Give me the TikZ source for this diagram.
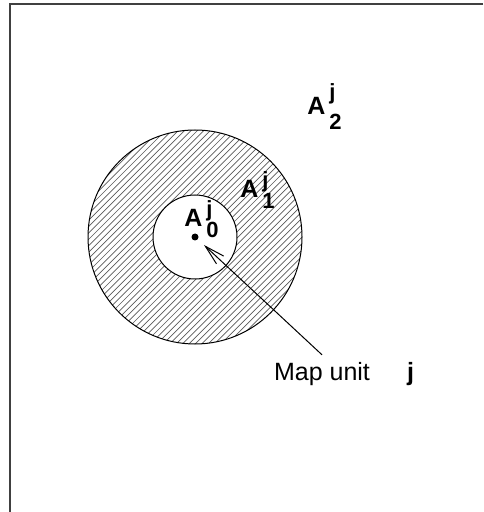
\documentclass[tikz,border=0pt]{standalone}
\usepackage{fontspec}
\setmainfont{Liberation Sans}
\usetikzlibrary{arrows.meta, positioning}
\newcommand{\arealabel}[2][-2.7pt]{\textbf{A}\kern2pt{\fontsize{11}{13.2}\selectfont\bfseries\begin{tabular}[c]{@{}l@{}}j\\[#1]#2\end{tabular}}}

\begin{document}
\begin{tikzpicture}[
  x=0.5pt, y=-0.5pt,
  frame/.style={line width=1pt, draw=black!75},
  ring/.style={line width=0.5pt, draw=black},
  hatchline/.style={line width=0.35pt, draw=black!65},
  lbl/.style={inner sep=0pt, font=\fontsize{12.5}{14}\selectfont\bfseries},
  txt/.style={font=\fontsize{12.5}{15}\selectfont},
  arr/.style={-{Straight Barb[length=10pt, width=5.3pt]}, line width=0.5pt}
]
  \useasboundingbox (0,0) rectangle (483,512);
  \draw[frame] (483,4.5) -- (9.5,4.5) -- (9.5,512);
  \coordinate (unit) at (195,237);
  \begin{scope}
    \clip (unit) circle[radius=53.5pt];
    \foreach \k in {-150,-143.6,...,310}
      \draw[hatchline] (\k,350) -- ++(240,-240);
  \end{scope}
  \fill[white] (unit) circle[radius=21pt];
  \draw[ring] (unit) circle[radius=53.5pt];
  \draw[ring] (unit) circle[radius=21pt];
  \fill (unit) circle[radius=1.75pt];
  \node[lbl, anchor=base west] (azero) at (184,227) {\arealabel{0}};
  \node[lbl, anchor=base west] (aone) at (240,198) {\arealabel{1}};
  \node[lbl, anchor=base west] (atwo) at (307,115) {\arealabel[1.8pt]{2}};
  \node[txt, anchor=base west] (mapunit) at (267,380) {Map unit};
  \node[txt, anchor=base west, font=\fontsize{12.5}{15}\selectfont\bfseries] (unitj) at (400,380) {j};
  \coordinate (tip) at (204,245);
  \draw[arr] (mapunit.north) -- (tip);
\end{tikzpicture}
\end{document}
